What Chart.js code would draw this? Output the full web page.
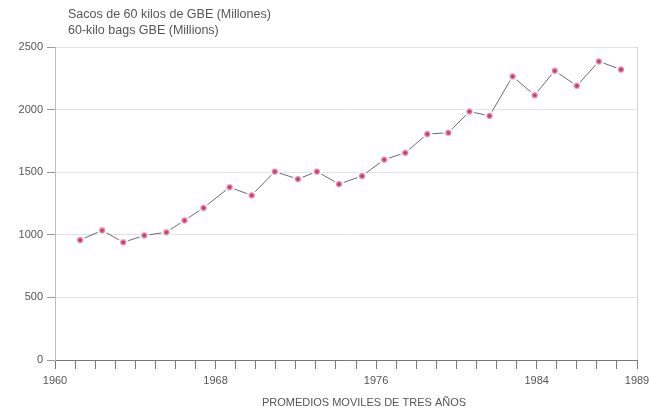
<!DOCTYPE html>
<html>
<head>
<meta charset="utf-8">
<script src="https://cdn.jsdelivr.net/npm/chart.js@4/dist/chart.umd.min.js"></script>
<style>
  html, body { margin: 0; padding: 0; background: #ffffff; }
  #wrap { position: relative; width: 650px; height: 409px; }
</style>
</head>
<body>
<div id="wrap"><canvas id="c" width="650" height="409"></canvas></div>
<script>
// Three-year moving averages, world coffee (GBE), millions of 60-kilo bags
const periodYears = [1961.25, 1962.35, 1963.4, 1964.45, 1965.55, 1966.45, 1967.4, 1968.7, 1969.8, 1970.95,
                     1972.1, 1973.05, 1974.15, 1975.3, 1976.4, 1977.45, 1978.55, 1979.6, 1980.65, 1981.65,
                     1982.8, 1983.9, 1984.9, 1986.0, 1987.1, 1988.2];
const bagsMillions = [958, 1035, 940, 995, 1020, 1115, 1215, 1380, 1315, 1505,
                      1445, 1505, 1405, 1470, 1600, 1655, 1805, 1815, 1985, 1950,
                      2265, 2115, 2310, 2190, 2385, 2320];
const yearTickLabels = [1960, 1968, 1976, 1984, 1989];
const titleLines = ['Sacos de 60 kilos de GBE (Millones)', '60-kilo bags GBE (Millions)'];
const xAxisTitle = 'PROMEDIOS MOVILES DE TRES AÑOS';

const FONT = '"Liberation Sans", Arial, sans-serif';

// marker: pink dot with darker centre, surrounded by a white halo that breaks the line
function makeMarker() {
  const s = 12, cv = document.createElement('canvas');
  cv.width = s; cv.height = s;
  const g = cv.getContext('2d');
  g.fillStyle = '#ffffff';
  g.beginPath(); g.arc(s / 2, s / 2, 5, 0, Math.PI * 2); g.fill();
  g.fillStyle = '#e07a9a';
  g.beginPath(); g.arc(s / 2, s / 2, 3, 0, Math.PI * 2); g.fill();
  g.fillStyle = '#b8305a';
  g.beginPath(); g.arc(s / 2, s / 2, 1.5, 0, Math.PI * 2); g.fill();
  return cv;
}

const textPlugin = {
  id: 'textPlugin',
  afterDraw(chart) {
    const { ctx, chartArea } = chart;
    ctx.save();
    // right frame of the plot
    ctx.strokeStyle = '#d0d0d0';
    ctx.lineWidth = 1;
    ctx.beginPath();
    ctx.moveTo(chartArea.right + 0.5, chartArea.top);
    ctx.lineTo(chartArea.right + 0.5, chartArea.bottom);
    ctx.stroke();
    // heading lines
    ctx.fillStyle = '#555555';
    ctx.font = '12.5px ' + FONT;
    ctx.textBaseline = 'middle';
    ctx.textAlign = 'left';
    ctx.fillText(titleLines[0], 68, 15);
    ctx.fillText(titleLines[1], 68, 31);
    // axis title
    ctx.textAlign = 'center';
    ctx.font = '11px ' + FONT;
    ctx.fillText(xAxisTitle, 364, 403);
    ctx.restore();
  }
};

new Chart(document.getElementById('c'), {
  type: 'line',
  data: {
    datasets: [{
      data: periodYears.map((x, i) => ({ x: x, y: bagsMillions[i] })),
      borderColor: '#6b6b6b',
      borderWidth: 1,
      tension: 0,
      pointStyle: makeMarker(),
      pointRadius: 6,
      pointHoverRadius: 6
    }]
  },
  options: {
    responsive: false,
    animation: false,
    devicePixelRatio: 1,
    layout: { padding: { left: 0, top: 47, right: 13, bottom: 0 } },
    plugins: { legend: { display: false }, tooltip: { enabled: false }, title: { display: false } },
    scales: {
      x: {
        type: 'linear',
        min: 1960,
        max: 1989,
        afterBuildTicks(scale) {
          const t = [];
          for (let y = 1960; y <= 1989; y++) t.push({ value: y });
          scale.ticks = t;
        },
        afterFit(scale) {
          scale.height = 49;
          scale.paddingLeft = 0;
          scale.paddingRight = 0;
        },
        ticks: {
          autoSkip: false,
          maxRotation: 0,
          color: '#555555',
          font: { family: FONT, size: 11 },
          padding: 5,
          callback: v => (yearTickLabels.includes(v) ? String(v) : '')
        },
        grid: {
          drawOnChartArea: false,
          drawTicks: true,
          tickLength: 9,
          color: '#777777'
        },
        border: { color: '#777777', width: 1 }
      },
      y: {
        min: 0,
        max: 2500,
        ticks: {
          stepSize: 500,
          color: '#555555',
          font: { family: FONT, size: 11 },
          padding: 4,
          callback: v => String(v)
        },
        afterFit(scale) { scale.width = 55; },
        grid: {
          color: '#e2e2e2',
          tickColor: '#999999',
          tickLength: 8
        },
        border: { color: '#bdbdbd', width: 1 }
      }
    }
  },
  plugins: [textPlugin]
});
</script>
</body>
</html>
